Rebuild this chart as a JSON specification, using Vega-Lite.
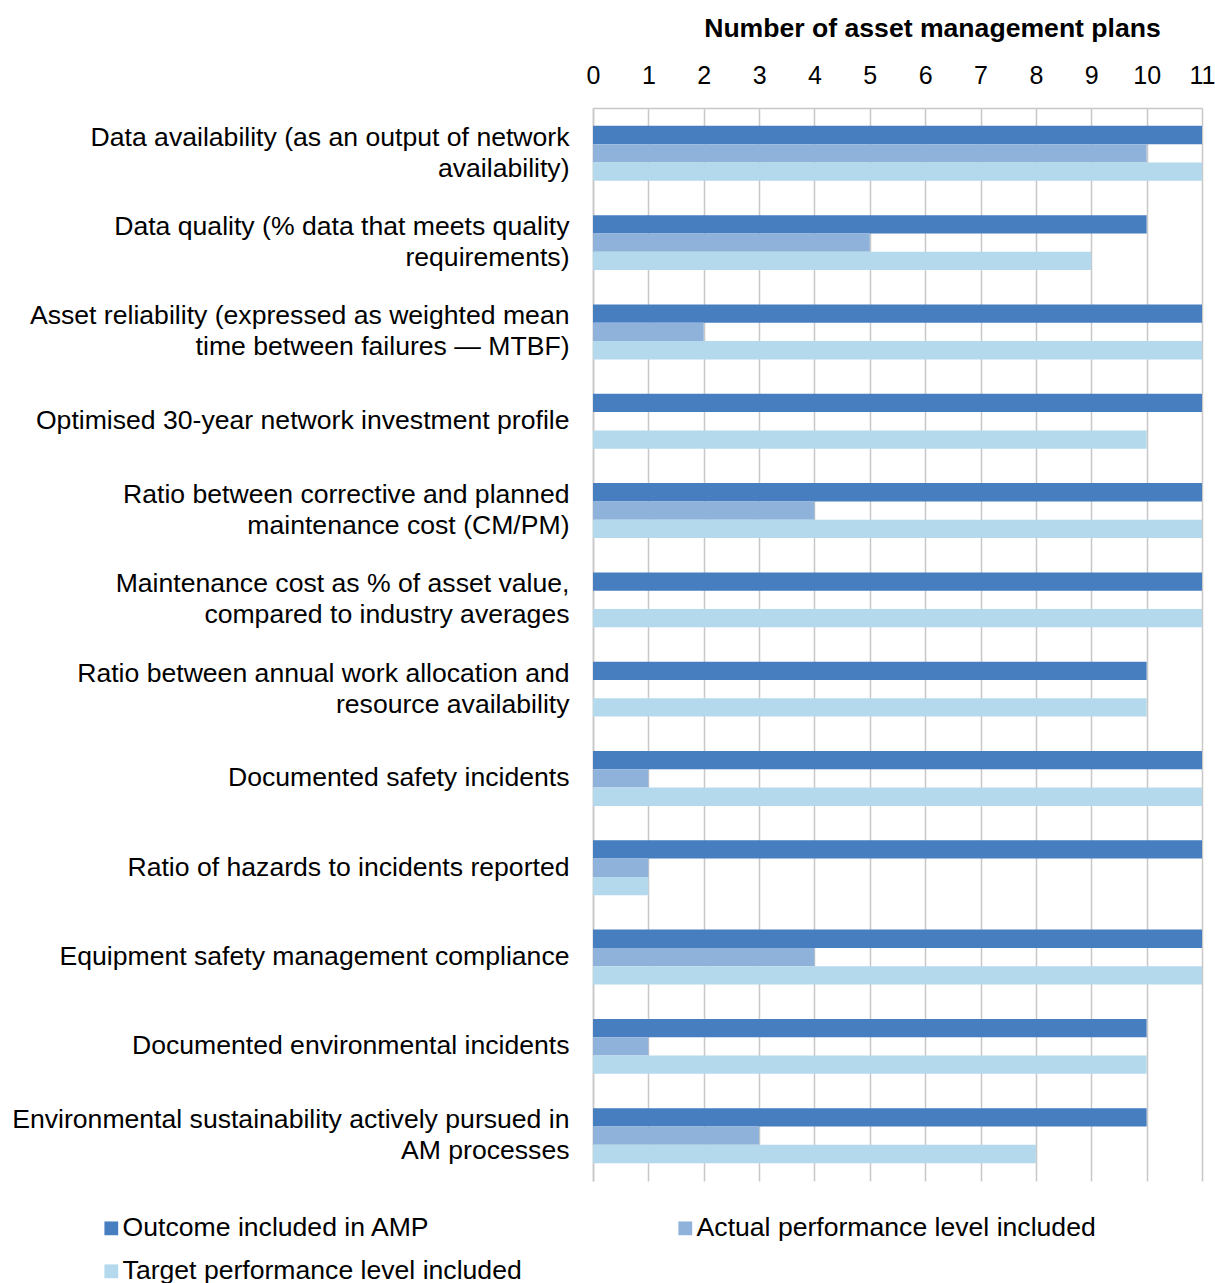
{
  "$schema": "https://vega.github.io/schema/vega-lite/v6.json",
  "autosize": {"type": "none"},
  "padding": {"left": 593, "top": 108, "right": 13, "bottom": 102},
  "width": 609,
  "height": 1073,
  "background": "white",
  "config": {
    "font": "Liberation Sans",
    "view": {"stroke": null},
    "axis": {"labelFont": "Liberation Sans", "titleFont": "Liberation Sans", "labelColor": "#000000", "titleColor": "#000000"},
    "legend": {"labelFont": "Liberation Sans"}
  },
  "data": {
    "values": [
      {"kpi": "Data availability (as an output of network|availability)", "series": "Outcome included in AMP", "plans": 11},
      {"kpi": "Data availability (as an output of network|availability)", "series": "Actual performance level included", "plans": 10},
      {"kpi": "Data availability (as an output of network|availability)", "series": "Target performance level included", "plans": 11},
      {"kpi": "Data quality (% data that meets quality|requirements)", "series": "Outcome included in AMP", "plans": 10},
      {"kpi": "Data quality (% data that meets quality|requirements)", "series": "Actual performance level included", "plans": 5},
      {"kpi": "Data quality (% data that meets quality|requirements)", "series": "Target performance level included", "plans": 9},
      {"kpi": "Asset reliability (expressed as weighted mean|time between failures — MTBF)", "series": "Outcome included in AMP", "plans": 11},
      {"kpi": "Asset reliability (expressed as weighted mean|time between failures — MTBF)", "series": "Actual performance level included", "plans": 2},
      {"kpi": "Asset reliability (expressed as weighted mean|time between failures — MTBF)", "series": "Target performance level included", "plans": 11},
      {"kpi": "Optimised 30-year network investment profile", "series": "Outcome included in AMP", "plans": 11},
      {"kpi": "Optimised 30-year network investment profile", "series": "Actual performance level included", "plans": 0},
      {"kpi": "Optimised 30-year network investment profile", "series": "Target performance level included", "plans": 10},
      {"kpi": "Ratio between corrective and planned|maintenance cost (CM/PM)", "series": "Outcome included in AMP", "plans": 11},
      {"kpi": "Ratio between corrective and planned|maintenance cost (CM/PM)", "series": "Actual performance level included", "plans": 4},
      {"kpi": "Ratio between corrective and planned|maintenance cost (CM/PM)", "series": "Target performance level included", "plans": 11},
      {"kpi": "Maintenance cost as % of asset value,|compared to industry averages", "series": "Outcome included in AMP", "plans": 11},
      {"kpi": "Maintenance cost as % of asset value,|compared to industry averages", "series": "Actual performance level included", "plans": 0},
      {"kpi": "Maintenance cost as % of asset value,|compared to industry averages", "series": "Target performance level included", "plans": 11},
      {"kpi": "Ratio between annual work allocation and|resource availability", "series": "Outcome included in AMP", "plans": 10},
      {"kpi": "Ratio between annual work allocation and|resource availability", "series": "Actual performance level included", "plans": 0},
      {"kpi": "Ratio between annual work allocation and|resource availability", "series": "Target performance level included", "plans": 10},
      {"kpi": "Documented safety incidents", "series": "Outcome included in AMP", "plans": 11},
      {"kpi": "Documented safety incidents", "series": "Actual performance level included", "plans": 1},
      {"kpi": "Documented safety incidents", "series": "Target performance level included", "plans": 11},
      {"kpi": "Ratio of hazards to incidents reported", "series": "Outcome included in AMP", "plans": 11},
      {"kpi": "Ratio of hazards to incidents reported", "series": "Actual performance level included", "plans": 1},
      {"kpi": "Ratio of hazards to incidents reported", "series": "Target performance level included", "plans": 1},
      {"kpi": "Equipment safety management compliance", "series": "Outcome included in AMP", "plans": 11},
      {"kpi": "Equipment safety management compliance", "series": "Actual performance level included", "plans": 4},
      {"kpi": "Equipment safety management compliance", "series": "Target performance level included", "plans": 11},
      {"kpi": "Documented environmental incidents", "series": "Outcome included in AMP", "plans": 10},
      {"kpi": "Documented environmental incidents", "series": "Actual performance level included", "plans": 1},
      {"kpi": "Documented environmental incidents", "series": "Target performance level included", "plans": 10},
      {"kpi": "Environmental sustainability actively pursued in|AM processes", "series": "Outcome included in AMP", "plans": 10},
      {"kpi": "Environmental sustainability actively pursued in|AM processes", "series": "Actual performance level included", "plans": 3},
      {"kpi": "Environmental sustainability actively pursued in|AM processes", "series": "Target performance level included", "plans": 8}
    ]
  },
  "mark": {"type": "bar"},
  "encoding": {
    "y": {
      "field": "kpi",
      "type": "nominal",
      "sort": null,
      "scale": {"paddingInner": 0.385, "paddingOuter": 0.2},
      "axis": {
        "title": null,
        "labelExpr": "split(datum.label, '|')",
        "labelFontSize": 26.6,
        "labelLineHeight": 31,
        "labelOffset": {"condition": {"test": "indexof(datum.value, '|') >= 0", "value": -15.5}, "value": 0},
        "labelLimit": 700,
        "labelPadding": 24,
        "ticks": false,
        "domainColor": "#c8c8c8",
        "domainWidth": 1.5,
        "grid": false
      }
    },
    "yOffset": {
      "field": "series",
      "type": "nominal",
      "sort": ["Outcome included in AMP", "Actual performance level included", "Target performance level included"],
      "scale": {"paddingInner": 0, "paddingOuter": 0}
    },
    "x": {
      "field": "plans",
      "type": "quantitative",
      "scale": {"domain": [0, 11], "nice": false},
      "axis": {
        "orient": "top",
        "title": "Number of asset management plans",
        "titleFontSize": 26.6,
        "titleFontWeight": "bold",
        "titleX": 339,
        "titleY": -80,
        "titleAlign": "center",
        "titleBaseline": "middle",
        "values": [0, 1, 2, 3, 4, 5, 6, 7, 8, 9, 10, 11],
        "format": "d",
        "labelFontSize": 25,
        "labelPadding": 20,
        "labelFlush": false,
        "labelOverlap": false,
        "labelBound": false,
        "ticks": false,
        "grid": true,
        "gridColor": "#c8c8c8",
        "gridWidth": 1.5,
        "domainColor": "#c8c8c8",
        "domainWidth": 1.5
      }
    },
    "color": {
      "field": "series",
      "type": "nominal",
      "sort": ["Outcome included in AMP", "Actual performance level included", "Target performance level included"],
      "scale": {
        "domain": ["Outcome included in AMP", "Actual performance level included", "Target performance level included"],
        "range": ["#477ec0", "#8fb2da", "#b4d9ec"]
      },
      "legend": {
        "title": null,
        "orient": "none",
        "legendX": -495,
        "legendY": 1107,
        "direction": "horizontal",
        "columns": 2,
        "columnPadding": 150,
        "rowPadding": 16,
        "symbolType": "square",
        "symbolSize": 190,
        "symbolStrokeWidth": 0,
        "symbolOffset": 0,
        "labelOffset": -2,
        "labelFontSize": 26.6,
        "labelColor": "#000000",
        "labelLimit": 600
      }
    }
  }
}
